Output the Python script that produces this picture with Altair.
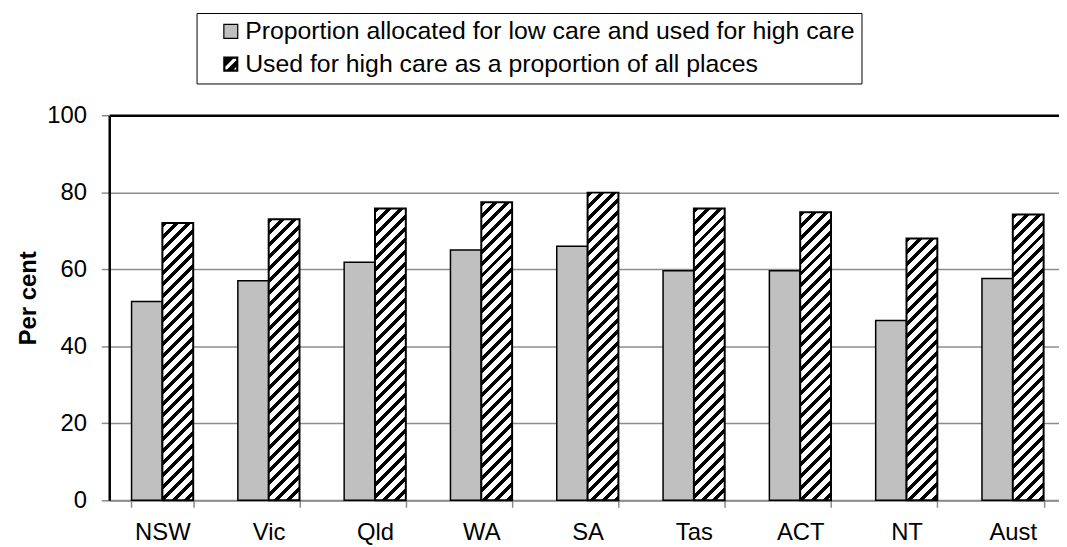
import altair as alt
import pandas as pd

# ---- data ----
states = ["NSW", "Vic", "Qld", "WA", "SA", "Tas", "ACT", "NT", "Aust"]
series_low = "Proportion allocated for low care and used for high care"
series_high = "Used for high care as a proportion of all places"
low_values = [51.6, 57.0, 61.8, 65.0, 66.0, 59.6, 59.6, 46.7, 57.6]
high_values = [72.0, 73.0, 75.8, 77.4, 79.9, 75.8, 74.8, 68.0, 74.2]
y_ticks = [0, 20, 40, 60, 80, 100]

# ---- layout / style ----
W, H = 964, 388
FONT = "Liberation Sans"
P_INNER, P_OUTER = 0.42, 0.21
bar_w = (1 - P_INNER) * W / len(states) / 2.0


def hatch(h, w, period=12.0, black=5.0):
    """Diagonal '/' stripes as a hard-stop linear gradient in bbox units."""
    L = w + h
    s = L / (w * w + h * h)
    stops = []
    pos = 0.0
    while pos < L:
        a = pos / L
        b = min((pos + black) / L, 1.0)
        c = min((pos + period) / L, 1.0)
        stops += [
            {"offset": round(a, 5), "color": "black"},
            {"offset": round(b, 5), "color": "black"},
            {"offset": round(b, 5), "color": "white"},
            {"offset": round(c, 5), "color": "white"},
        ]
        pos += period
    return {"gradient": "linear", "x1": 0, "y1": 0,
            "x2": round(w * s, 5), "y2": round(h * s, 5), "stops": stops}


def clip(poly, a, b, c):
    """Keep the part of polygon where a*x + b*y <= c."""
    out = []
    n = len(poly)
    for i in range(n):
        p, q = poly[i], poly[(i + 1) % n]
        fp = a * p[0] + b * p[1] - c
        fq = a * q[0] + b * q[1] - c
        if fp <= 0:
            out.append(p)
        if (fp < 0 < fq) or (fq < 0 < fp):
            t = fp / (fp - fq)
            out.append((p[0] + t * (q[0] - p[0]), p[1] + t * (q[1] - p[1])))
    return out


def hatch_symbol(bands, inner=0.86):
    """Custom legend symbol path: square frame + diagonal black bands."""
    s = inner
    parts = ["M-1,-1L1,-1L1,1L-1,1Z",
             "M%.3f,%.3fL%.3f,%.3fL%.3f,%.3fL%.3f,%.3fZ" % (-s, -s, -s, s, s, s, s, -s)]
    sq = [(-s, -s), (s, -s), (s, s), (-s, s)]
    for lo, hi in bands:
        poly = clip(clip(sq, 1, 1, hi), -1, -1, -lo)
        if len(poly) >= 3:
            parts.append("M" + "L".join("%.3f,%.3f" % p for p in poly) + "Z")
    return "".join(parts)


legend_path = hatch_symbol([(-2.0, -0.55), (0.35, 1.05)])

rows = []
for st, a, b in zip(states, low_values, high_values):
    rows.append({"state": st, "series": series_low, "value": a})
    rows.append({"state": st, "series": series_high, "value": b})
df = pd.DataFrame(rows)

x_enc = alt.X(
    "state:N", sort=states,
    scale=alt.Scale(paddingInner=P_INNER, paddingOuter=P_OUTER),
    axis=alt.Axis(title=None, labelAngle=0, tickBand="extent", grid=False,
                  domainColor="#8c8c8c", domainWidth=2, tickColor="#8c8c8c",
                  tickWidth=1.5, tickSize=7, labelPadding=14,
                  labelFont=FONT, labelFontSize=24, labelColor="black"),
)
xo_enc = alt.XOffset("series:N", sort=[series_low, series_high],
                     scale=alt.Scale(domain=[series_low, series_high],
                                     paddingInner=0, paddingOuter=0))
y_enc = alt.Y(
    "value:Q", scale=alt.Scale(domain=[0, 100], nice=False),
    axis=alt.Axis(values=y_ticks, title="Per cent", titleFont=FONT,
                  titleFontSize=24, titleFontWeight="bold", titleColor="black",
                  titlePadding=6, titleY=184, labelFont=FONT, labelFontSize=24,
                  labelColor="black", labelPadding=15, tickSize=8,
                  tickColor="#8c8c8c", tickWidth=1.5,
                  domainColor="black", domainWidth=2.5, grid=True,
                  gridColor={"condition": {"test": "datum.value === 100", "value": "black"},
                             "value": "#8c8c8c"},
                  gridWidth={"condition": {"test": "datum.value === 100", "value": 2.5},
                             "value": 1.5}),
)

legend = alt.Legend(
    title=None, orient="none", legendX=88, legendY=-103,
    direction="vertical", symbolSize=196, symbolOpacity=1,
    symbolStrokeColor="black", symbolStrokeWidth=1.2,
    labelFont=FONT, labelFontSize=25, labelColor="black",
    labelLimit=1200, labelOffset=2, symbolOffset=16,
    rowPadding=7, padding=6, strokeColor="black",
)
fill_scale = alt.Scale(domain=[series_low, series_high], range=["#c0c0c0", "black"])
shape_scale = alt.Scale(domain=[series_low, series_high], range=["square", legend_path])
stroke_scale = alt.Scale(domain=[series_low, series_high], range=["black", "black"])

# invisible point layer that carries the legend (fill + shape + stroke merge into one legend)
legend_layer = alt.Chart(df).mark_point(
    filled=True, opacity=0, strokeWidth=1
).encode(
    x=x_enc, xOffset=xo_enc, y=y_enc,
    fill=alt.Fill("series:N", scale=fill_scale, legend=legend),
    shape=alt.Shape("series:N", scale=shape_scale, legend=legend),
    stroke=alt.Stroke("series:N", scale=stroke_scale, legend=legend),
)

grey = alt.Chart(df).transform_filter(
    alt.datum.series == series_low
).mark_bar(stroke="black", strokeWidth=1.5).encode(
    x=x_enc, xOffset=xo_enc, y=y_enc,
    fill=alt.Fill("series:N", scale=fill_scale, legend=legend),
)

conds = []
for st, v in zip(states, high_values):
    conds.append({"test": "datum.state === '%s'" % st,
                  "value": hatch(v * H / 100.0, bar_w)})

hatched = alt.Chart(df).transform_filter(
    alt.datum.series == series_high
).mark_bar(stroke="black", strokeWidth=2).encode(
    x=x_enc, xOffset=xo_enc, y=y_enc,
    fill=alt.FillValue("white", condition=conds),
)

chart = alt.layer(legend_layer, grey, hatched).properties(
    width=W, height=H,
    autosize=alt.AutoSizeParams(type="none"),
    padding={"left": 102, "top": 106, "right": -7, "bottom": 44},
).configure_view(stroke=None)

chart.save("out.html", embed_options={"renderer": "svg", "actions": False})
